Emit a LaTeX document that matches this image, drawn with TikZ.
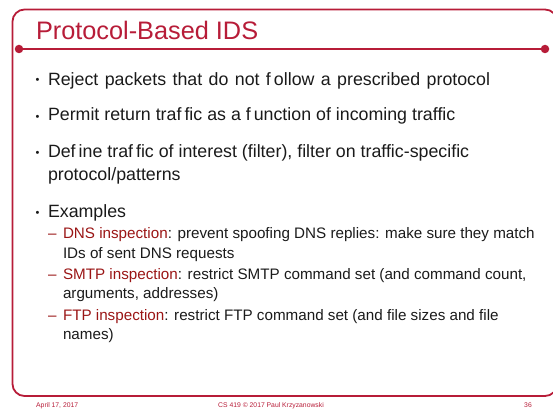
\documentclass[tikz,border=0pt]{standalone}
\usepackage{fontspec}
\setmainfont{Liberation Sans}
\definecolor{frame}{HTML}{B71C38}
\definecolor{accent}{HTML}{9A1515}
\definecolor{bodytext}{HTML}{1A1A1A}
% small gap left after a split ligature
\newcommand{\fgap}{\kern3pt}
% slightly wider inter-word spacing
\newcommand{\widespaces}{\spaceskip=6.4pt\relax}
\begin{document}
\begin{tikzpicture}[x=1pt,y=-1pt,
  line/.style={anchor=base west, inner sep=0pt, outer sep=0pt},
  titletext/.style={line, text=frame, font=\fontsize{25.3}{30}\selectfont},
  itemtext/.style={line, text=bodytext, font=\fontsize{17.8}{23}\selectfont},
  widetext/.style={itemtext, font=\fontsize{17.8}{23}\selectfont\widespaces},
  bulletmark/.style={line, text=bodytext, font=\fontsize{11}{14}\selectfont},
  subtext/.style={line, text=bodytext, font=\fontsize{15.2}{20}\selectfont},
  footer/.style={inner sep=0pt, text=frame, font=\fontsize{6.8}{8}\selectfont},
  dot/.style={circle, fill=frame, inner sep=0pt, minimum size=8.5pt}
]
\useasboundingbox (0,0) rectangle (553,409);
\clip (0,0) rectangle (553,409);

% slide frame with rounded corners
\draw[frame, line width=1.8pt, rounded corners=12pt] (12.5,9.5) rectangle (557,396);

% title rule with end dots
\node[dot] (ldot) at (19,49) {};
\node[dot] (rdot) at (545,49) {};
\draw[frame, line width=2.6pt] (ldot.center) -- (rdot.center);

% title
\node[titletext] (title) at (36,40) {Protocol-Based IDS};

% main bullets
\node[bulletmark] (b1) at (35.5,84) {•};
\node[widetext] (t1) at (48,85) {Reject packets that do not f\fgap ollow a prescribed protocol};
\node[bulletmark] (b2) at (35.5,120) {•};
\node[itemtext] (t2) at (48,121) {Permit return traf\fgap fic as a f\fgap unction of incoming traffic};
\node[bulletmark] (b3) at (35.5,156) {•};
\node[itemtext] (t3) at (48,157) {Def\fgap ine traf\fgap fic of interest (filter), filter on traffic-specific};
\node[itemtext] (t3b) at (48,180) {protocol/patterns};
\node[bulletmark] (b4) at (35.5,216) {•};
\node[itemtext] (t4) at (48,217) {Examples};

% sub-items
\node[subtext, text=accent] (d1) at (48,238) {–};
\node[subtext] (s1) at (63,238) {\textcolor{accent}{DNS inspection}: prevent spoofing DNS replies: make sure they match};
\node[subtext] (s1b) at (63,258) {IDs of sent DNS requests};
\node[subtext, text=accent] (d2) at (48,279) {–};
\node[subtext] (s2) at (63,279) {\textcolor{accent}{SMTP inspection}: restrict SMTP command set (and command count,};
\node[subtext] (s2b) at (63,298) {arguments, addresses)};
\node[subtext, text=accent] (d3) at (48,320) {–};
\node[subtext] (s3) at (63,320) {\textcolor{accent}{FTP inspection}: restrict FTP command set (and file sizes and file};
\node[subtext] (s3b) at (63,339) {names)};

% footer
\node[footer, anchor=base west] (date) at (36,407) {April 17, 2017};
\node[footer, anchor=base] (course) at (271,407) {CS 419 © 2017 Paul Krzyzanowski};
\node[footer, anchor=base east] (page) at (532,407) {36};
\end{tikzpicture}
\end{document}
